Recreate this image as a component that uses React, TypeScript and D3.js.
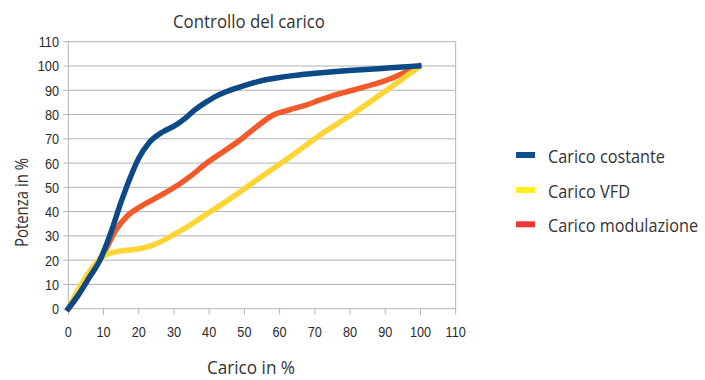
import React from "react";
import * as d3 from "d3";

const title = "Controllo del carico";
const xLabel = "Carico in %";
const yLabel = "Potenza in %";
const xTicks = [0, 10, 20, 30, 40, 50, 60, 70, 80, 90, 100, 110];
const yTicks = [0, 10, 20, 30, 40, 50, 60, 70, 80, 90, 100, 110];

const seriesNames = ["Carico costante", "Carico VFD", "Carico modulazione"];

const costante: [number, number][] = [
  [0, 0], [3, 6], [6, 13], [9, 20], [12, 31], [15, 44], [18, 55.5], [20, 62],
  [23, 68.5], [27, 73], [30, 75.2], [33, 78.2], [36, 82], [39, 85], [42, 87.6],
  [45, 89.5], [48, 91], [52, 92.8], [56, 94.3], [61, 95.5], [66, 96.4], [71, 97.1],
  [76, 97.7], [82, 98.3], [89, 99], [95, 99.6], [99.5, 100],
];

const vfd: [number, number][] = [
  [0, 0], [3.3, 9], [7, 17.3], [10.4, 22], [13.7, 23.5], [19.4, 24.5], [24, 26.2],
  [29.8, 30.4], [34.6, 34.5], [37.4, 37.2], [44, 43.4], [53.5, 53], [63, 62.6],
  [71.5, 71.6], [81, 80.5], [90.5, 90.1], [99.5, 99.5],
];

const modulazione: [number, number][] = [
  [0, 0], [3, 6], [6, 13], [9, 20.5], [10.5, 24], [13.3, 32], [16.6, 38],
  [20.4, 42], [26, 46.5], [31.7, 51.5], [34.6, 54.5], [39.3, 60], [44, 64.7],
  [48.8, 69.5], [53.5, 75], [58.2, 79.8], [63, 82], [67.7, 84], [71.5, 86],
  [74.3, 87.4], [81, 90.1], [90.5, 94.2], [98, 99], [99.5, 100],
];

const lineColors = ["#0b4a86", "#fed535", "#f25a2a"];
const legendColors = ["#0d4e8b", "#ffee1a", "#ee3636"];
const legendWidths = [117, 82, 150];

export default function App() {
  const x = d3.scaleLinear().domain([0, 110]).range([68.3, 455.7]);
  const y = d3.scaleLinear().domain([0, 110]).range([308.7, 41.7]);
  const line = d3
    .line<[number, number]>()
    .x((d) => x(d[0]))
    .y((d) => y(d[1]))
    .curve(d3.curveMonotoneX);

  const data = [costante, vfd, modulazione];
  const drawOrder = [2, 1, 0];
  const tickFont = "'Liberation Sans', Arial, sans-serif";
  const textFont = "'Open Sans', sans-serif";
  const legendY = [155, 190, 224.3];

  return (
    <svg
      width={705}
      height={380}
      style={{ position: "absolute", left: 0, top: 0, background: "#fff" }}
    >
      <rect width={705} height={380} fill="#fff" />
      <text
        x={173}
        y={28}
        fontFamily={textFont}
        fontSize={19}
        fill="#333"
        textLength={152}
        lengthAdjust="spacingAndGlyphs"
      >
        {title}
      </text>
      {yTicks.map((t) => (
        <g key={"y" + t}>
          <line x1={x(0) - 5} x2={x(110)} y1={y(t)} y2={y(t)} stroke="#b3b3b3" strokeWidth={1} />
          <text
            transform={`translate(59,${y(t) + 5.5}) scale(0.82,1)`}
            textAnchor="end"
            fontFamily={tickFont}
            fontSize={15.5}
            fill="#2b2b2b"
          >
            {t}
          </text>
        </g>
      ))}
      <line x1={x(0)} x2={x(0)} y1={y(110)} y2={y(0)} stroke="#b3b3b3" />
      <line x1={x(110)} x2={x(110)} y1={y(110)} y2={y(0)} stroke="#b3b3b3" />
      {xTicks.map((t) => (
        <g key={"x" + t}>
          <line x1={x(t)} x2={x(t)} y1={y(0)} y2={y(0) + 6} stroke="#b3b3b3" />
          <text
            transform={`translate(${x(t)},337) scale(0.82,1)`}
            textAnchor="middle"
            fontFamily={tickFont}
            fontSize={15.5}
            fill="#2b2b2b"
          >
            {t}
          </text>
        </g>
      ))}
      {drawOrder.map((i) => (
        <path
          key={"s" + i}
          d={line(data[i]) || ""}
          fill="none"
          stroke={lineColors[i]}
          strokeWidth={5.5}
          strokeLinejoin="round"
          strokeLinecap="square"
        />
      ))}
      <text
        x={207}
        y={374}
        fontFamily={textFont}
        fontSize={19}
        fill="#333"
        textLength={88}
        lengthAdjust="spacingAndGlyphs"
      >
        {xLabel}
      </text>
      <text
        transform="translate(28,247) rotate(-90)"
        fontFamily={textFont}
        fontSize={19}
        fill="#333"
        textLength={89}
        lengthAdjust="spacingAndGlyphs"
      >
        {yLabel}
      </text>
      {seriesNames.map((n, i) => (
        <g key={"l" + i}>
          <rect x={516} y={legendY[i] - 3} width={19} height={6} fill={legendColors[i]} />
          <text
            x={548}
            y={legendY[i] + 8}
            fontFamily={textFont}
            fontSize={19}
            fill="#333"
            textLength={legendWidths[i]}
            lengthAdjust="spacingAndGlyphs"
          >
            {n}
          </text>
        </g>
      ))}
    </svg>
  );
}
